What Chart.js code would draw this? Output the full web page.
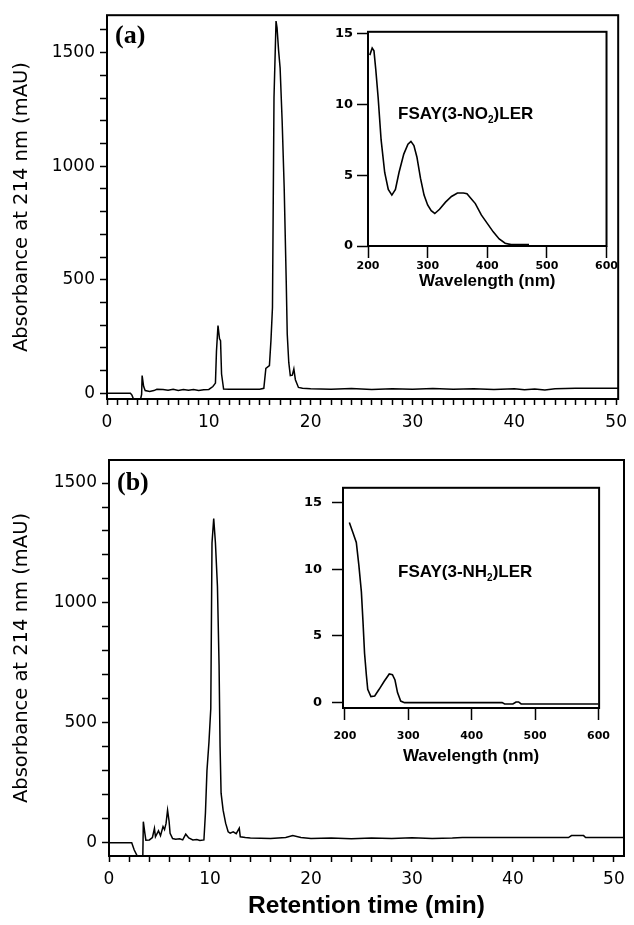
<!DOCTYPE html>
<html>
<head>
<meta charset="utf-8">
<script src="https://cdn.jsdelivr.net/npm/chart.js@4.4.1/dist/chart.umd.min.js"></script>
<style>
  body { margin: 0; background: #fff; width: 634px; height: 925px; position: relative; overflow: hidden; }
  canvas { position: absolute; }
  #mainA { left: 0; top: 0; }
  #mainB { left: 0; top: 440px; }
  #insetA { left: 320px; top: 20px; }
  #insetB { left: 300px; top: 470px; }
</style>
</head>
<body>
<canvas id="mainA" width="634" height="440"></canvas>
<canvas id="mainB" width="634" height="485"></canvas>
<canvas id="insetA" width="300" height="280"></canvas>
<canvas id="insetB" width="320" height="300"></canvas>
<script>
// chromatogram (a): retention time (min) / absorbance (mAU)
const timeA = [0, 2.3, 2.45, 2.6, 3.3, 3.4, 3.45, 3.6, 3.75, 4.2, 4.6, 4.9, 5.5, 6.0, 6.5, 7.0, 7.5, 8.0, 8.5, 9.0,
  9.5, 10.0, 10.4, 10.65, 10.75, 10.9, 11.05, 11.15, 11.25, 11.45, 12, 13, 14, 15, 15.4, 15.6, 15.95, 16.1, 16.25, 16.4,
  16.6, 16.7, 16.85, 17.0, 17.2, 17.4, 17.6, 17.7, 17.85, 18.0, 18.2, 18.35, 18.5, 18.8, 19.2, 20, 22, 24, 26, 28,
  30, 32, 34, 36, 38, 40, 41, 42, 43, 44, 46, 48, 50.2];
const absA = [0, 0, -8, -25, -25, -5, 78, 30, 12, 8, 12, 18, 17, 14, 18, 13, 17, 14, 17, 13,
  16, 17, 30, 45, 185, 298, 240, 232, 85, 19, 18, 18, 18, 18, 22, 110, 122, 232, 378, 1302,
  1639, 1609, 1510, 1433, 1199, 906, 496, 261, 136, 78, 80, 107, 60, 26, 22, 20, 18, 21, 17, 20,
  18, 21, 18, 20, 17, 20, 16, 19, 15, 20, 22, 22, 22];

// chromatogram (b)
const timeB = [0, 2.25, 2.5, 2.8, 3.35, 3.4, 3.55, 3.65, 4.0, 4.3, 4.5, 4.6, 4.9, 5.1, 5.35, 5.5, 5.65, 5.8, 5.95, 6.05,
  6.3, 6.6, 7.0, 7.3, 7.6, 7.9, 8.3, 8.7, 9.0, 9.4, 9.55, 9.7, 9.9, 10.08, 10.2, 10.37, 10.54, 10.74, 10.9, 11.0,
  11.1, 11.3, 11.55, 11.8, 12.0, 12.3, 12.6, 12.9, 13.0, 13.5, 14, 16, 17.5, 18.2, 19, 20, 22, 24, 26, 28,
  30, 32, 34, 35, 40, 45.5, 45.8, 47, 47.2, 51];
const absB = [0, 0, -30, -55, -55, 88, 40, 11, 12, 22, 60, 25, 50, 30, 68, 55, 81, 136, 90, 40,
  18, 15, 17, 12, 36, 20, 12, 14, 10, 12, 124, 300, 420, 560, 1250, 1352, 1250, 1068, 741, 400,
  207, 136, 82, 46, 40, 46, 38, 61, 25, 22, 20, 18, 22, 30, 22, 18, 20, 17, 20, 18,
  21, 18, 20, 22, 22, 22, 30, 30, 22, 22];

// UV spectra in the insets: wavelength (nm) / absorbance
const nmA = [203, 207, 210, 213, 217, 222, 228, 234, 240, 246, 252, 260, 267, 272, 277, 282, 288, 294, 300, 306,
  312, 320, 330, 340, 350, 360, 366, 372, 380, 390, 400, 410, 420, 430, 440, 455, 470];
const specA = [13.5, 14.0, 13.8, 12.5, 10.5, 7.5, 5.2, 4.0, 3.6, 4.0, 5.2, 6.5, 7.2, 7.4, 7.1, 6.3, 4.8, 3.6, 2.9, 2.5,
  2.3, 2.6, 3.1, 3.5, 3.75, 3.75, 3.7, 3.4, 3.0, 2.2, 1.6, 1.0, 0.5, 0.2, 0.1, 0.1, 0.1];
const nmB = [207, 213, 218, 222, 226, 228.5, 231, 234, 236, 241, 247, 254, 262, 270, 275, 279, 283, 288, 294, 350,
  400, 448, 452, 465, 470, 474, 478, 600];
const specB = [13.5, 12.7, 12.0, 10.3, 8.3, 6.1, 3.7, 2.0, 1.0, 0.45, 0.5, 1.0, 1.6, 2.15, 2.1, 1.7, 0.75, 0.12, 0, 0,
  0, 0, -0.1, -0.1, 0.05, 0.05, -0.1, -0.1];

// tick labels
const mainXLabels = [0, 10, 20, 30, 40, 50];
const mainYLabels = [0, 500, 1000, 1500];
const specXLabels = [200, 300, 400, 500, 600];
const specYLabels = [0, 5, 10, 15];

const pairs = (xs, ys) => xs.map((x, i) => ({ x: x, y: ys[i] }));

// tick marks at a fixed step (labels come from the arrays above)
function everyStep(from, to, step) {
  const t = [];
  for (let v = from; v <= to + 1e-9; v += step) t.push({ value: Math.round(v * 100) / 100 });
  return t;
}

// box around the plot area
const frame = {
  id: 'frame',
  afterDraw(chart) {
    const { ctx, chartArea: a } = chart;
    ctx.save();
    ctx.strokeStyle = '#000';
    ctx.lineWidth = 2;
    ctx.strokeRect(a.left, a.top, a.right - a.left, a.bottom - a.top);
    ctx.restore();
  }
};

// text inside the plot area, pieces may be subscripts
function note(parts, dx, dy, font, subFont) {
  return {
    id: 'note',
    afterDraw(chart) {
      const { ctx, chartArea: a } = chart;
      ctx.save();
      ctx.fillStyle = '#000';
      ctx.textBaseline = 'alphabetic';
      let x = a.left + dx;
      parts.forEach(p => {
        ctx.font = p.sub ? subFont : font;
        ctx.fillText(p.t, x, a.top + dy + (p.sub ? 4 : 0));
        x += ctx.measureText(p.t).width;
      });
      ctx.restore();
    }
  };
}

function chromatogram(id, xs, ys, o) {
  return new Chart(document.getElementById(id), {
    type: 'line',
    data: { datasets: [{ data: pairs(xs, ys), borderColor: '#000', borderWidth: 1.5, pointRadius: 0, tension: 0 }] },
    options: {
      responsive: false,
      animation: false,
      events: [],
      layout: { padding: { top: o.top, right: 10, left: 0, bottom: 0 } },
      plugins: { legend: { display: false }, tooltip: { enabled: false } },
      scales: {
        x: {
          type: 'linear', min: 0, max: o.xMax,
          afterBuildTicks: s => { s.ticks = everyStep(0, 50, o.xStep); },
          afterFit: s => { s.height = o.xAxisH; },
          border: { display: false },
          grid: { drawOnChartArea: false, color: '#000', tickLength: 6, tickWidth: 1.5 },
          ticks: {
            autoSkip: false, maxRotation: 0, padding: 7, color: '#000',
            font: { family: 'DejaVu Sans', size: 17 },
            callback: v => mainXLabels.includes(v) ? String(v) : ''
          },
          title: {
            display: !!o.xTitle, text: o.xTitle || '', color: '#000',
            font: { family: 'Liberation Sans', size: 24.5, weight: 'bold' },
            padding: { top: 0, bottom: 4 }
          }
        },
        y: {
          min: o.yMin, max: o.yMax,
          afterBuildTicks: s => { s.ticks = everyStep(0, o.yTop, 100); },
          afterFit: s => { s.width = o.yAxisW; },
          border: { display: false },
          grid: { drawOnChartArea: false, color: '#000', tickLength: 7, tickWidth: 1.5 },
          ticks: {
            autoSkip: false, padding: 5, color: '#000',
            font: { family: 'DejaVu Sans', size: 17 },
            callback: v => mainYLabels.includes(v) ? String(v) : ''
          },
          title: {
            display: true, text: 'Absorbance at 214 nm (mAU)', color: '#000',
            font: { family: 'DejaVu Sans', size: 19.5 },
            padding: { top: 10, bottom: 0 }
          }
        }
      }
    },
    plugins: [frame, note([{ t: o.panel }], 8, o.panelDy, 'bold 26px "Liberation Serif"', '')]
  });
}

function spectrum(id, xs, ys, o) {
  return new Chart(document.getElementById(id), {
    type: 'line',
    data: { datasets: [{ data: pairs(xs, ys), borderColor: '#000', borderWidth: 1.6, pointRadius: 0, tension: 0 }] },
    options: {
      responsive: false,
      animation: false,
      events: [],
      layout: { padding: { top: o.top, right: o.right, left: 0, bottom: 0 } },
      plugins: { legend: { display: false }, tooltip: { enabled: false } },
      scales: {
        x: {
          type: 'linear', min: o.xMin, max: o.xMax,
          afterBuildTicks: s => { s.ticks = everyStep(200, 600, 100); },
          afterFit: s => { s.height = o.xAxisH; },
          border: { display: false },
          grid: { drawOnChartArea: false, color: '#000', tickLength: 12, tickWidth: 1.5 },
          ticks: {
            autoSkip: false, maxRotation: 0, padding: o.xPad, color: '#000',
            font: { family: 'DejaVu Sans', size: 11, weight: 'bold' },
            callback: v => specXLabels.includes(v) ? String(v) : ''
          },
          title: {
            display: true, text: 'Wavelength (nm)', color: '#000',
            font: { family: 'Liberation Sans', size: 17, weight: 'bold' },
            padding: { top: 0, bottom: o.titlePad }
          }
        },
        y: {
          min: o.yMin, max: o.yMax,
          afterBuildTicks: s => { s.ticks = everyStep(0, 15, 5); },
          afterFit: s => { s.width = o.yAxisW; },
          border: { display: false },
          grid: { drawOnChartArea: false, color: '#000', tickLength: 11, tickWidth: 1.5 },
          ticks: {
            autoSkip: false, padding: o.yPad, color: '#000',
            font: { family: 'DejaVu Sans', size: 13, weight: 'bold' },
            callback: v => specYLabels.includes(v) ? String(v) : ''
          }
        }
      }
    },
    plugins: [frame, note(o.label, o.labelDx, o.labelDy, 'bold 17px "Liberation Sans"', 'bold 10px "Liberation Sans"')]
  });
}

chromatogram('mainA', timeA, absA, {
  top: 14, xMax: 50.2, yMin: -25, yMax: 1665, yTop: 1600, xStep: 1, xAxisH: 41, yAxisW: 107, panel: '(a)', panelDy: 28
});
chromatogram('mainB', timeB, absB, {
  top: 20, xMax: 51, yMin: -55, yMax: 1596, yTop: 1500, xStep: 2, xAxisH: 69, yAxisW: 109, panel: '(b)', panelDy: 30,
  xTitle: 'Retention time (min)'
});

spectrum('insetA', nmA, specA, {
  top: 11, right: 13, xMin: 200, xMax: 600, yMin: 0, yMax: 15.15, xAxisH: 54, yAxisW: 48, xPad: 2, yPad: 4, titlePad: 8,
  label: [{ t: 'FSAY(3-NO' }, { t: '2', sub: true }, { t: ')LER' }], labelDx: 30, labelDy: 87
});
spectrum('insetB', nmB, specB, {
  top: 15, right: 18, xMin: 197, xMax: 601, yMin: -0.4, yMax: 16.1, xAxisH: 62, yAxisW: 43, xPad: 10, yPad: 10, titlePad: 3,
  label: [{ t: 'FSAY(3-NH' }, { t: '2', sub: true }, { t: ')LER' }], labelDx: 55, labelDy: 89
});
</script>
</body>
</html>
